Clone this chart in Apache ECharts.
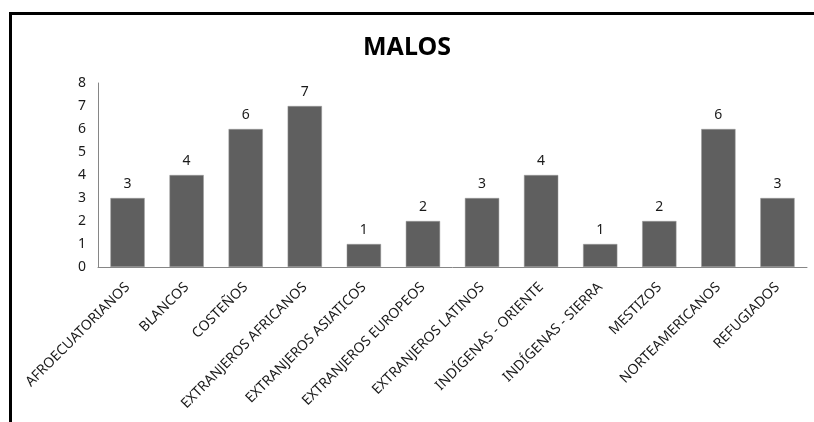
<!DOCTYPE html>
<html>
<head>
<meta charset="utf-8">
<script src="https://cdn.jsdelivr.net/npm/echarts@6/dist/echarts.min.js"></script>
<style>
html,body{margin:0;padding:0;background:#fff;}
#c{width:814px;height:422px;}
</style>
</head>
<body>
<div id="c"></div>
<script>
var categories = ['AFROECUATORIANOS','BLANCOS','COSTEÑOS','EXTRANJEROS AFRICANOS','EXTRANJEROS ASIATICOS','EXTRANJEROS EUROPEOS','EXTRANJEROS LATINOS','INDÍGENAS - ORIENTE','INDÍGENAS - SIERRA','MESTIZOS','NORTEAMERICANOS','REFUGIADOS'];
var values = [3,4,6,7,1,2,3,4,1,2,6,3];
var titleText = 'MALOS';

var chart = echarts.init(document.getElementById('c'), null, {renderer:'canvas'});
var font = '"Noto Sans", sans-serif';
chart.setOption({
  animation:false,
  backgroundColor:'#fff',
  graphic:[{
    type:'rect', silent:true, z:-1,
    shape:{x:10.5, y:13.5, width:900, height:500},
    style:{fill:'none', stroke:'#000', lineWidth:3}
  }],
  title:{
    text:titleText, left:'center', top:30,
    textStyle:{fontFamily:font, fontSize:25, fontWeight:'bold', color:'#000'}
  },
  grid:{left:98, right:7, top:83, bottom:155, containLabel:false},
  xAxis:{
    type:'category', data:categories,
    axisLine:{lineStyle:{color:'#868686', width:1}},
    axisTick:{show:false},
    axisLabel:{rotate:45, interval:0, margin:18, fontFamily:font, fontSize:14, color:'#1a1a1a'}
  },
  yAxis:{
    type:'value', min:0, max:8, interval:1,
    axisLine:{show:true, lineStyle:{color:'#868686', width:1}},
    axisTick:{show:false},
    splitLine:{show:false},
    axisLabel:{margin:12, fontFamily:font, fontSize:14, color:'#1a1a1a'}
  },
  series:[{
    type:'bar', data:values, barCategoryGap:'42%',
    itemStyle:{color:'#5f5f5f', borderColor:'#9a9a9a', borderWidth:0.5},
    label:{show:true, position:'top', distance:7, fontFamily:font, fontSize:14, color:'#1a1a1a'}
  }]
});
</script>
</body>
</html>
